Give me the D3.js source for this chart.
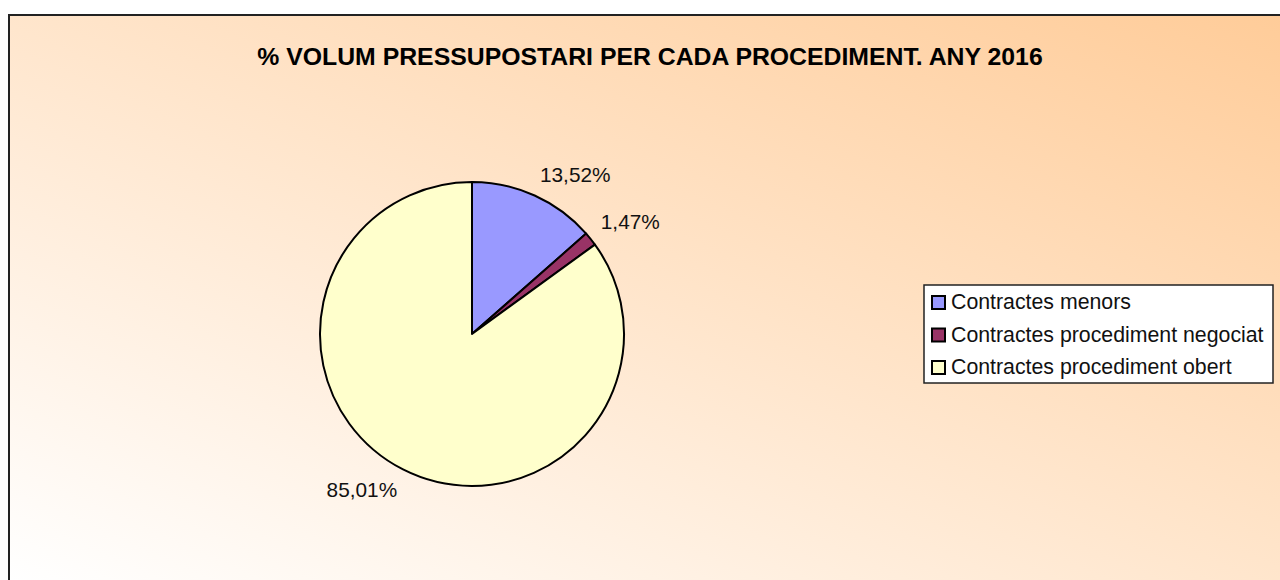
<!DOCTYPE html>
<html>
<head>
<meta charset="utf-8">
<script src="https://cdn.jsdelivr.net/npm/d3@7/dist/d3.min.js"></script>
<style>
  html, body { margin: 0; padding: 0; background: #fff; }
  svg { display: block; font-family: Arial, "Liberation Sans", sans-serif; }
</style>
</head>
<body>
<div id="chart"></div>
<script>
const TITLE = '% VOLUM PRESSUPOSTARI PER CADA PROCEDIMENT. ANY 2016';
const categories = ['Contractes menors', 'Contractes procediment negociat', 'Contractes procediment obert'];
const values = [13.52, 1.47, 85.01];
const labels = ['13,52%', '1,47%', '85,01%'];
const colors = ['#9999FF', '#993366', '#FFFFCC'];

const WIDTH = 1280;
const HEIGHT = 580;
const FRAME = { x: 9, y: 15 };
const PIE = { cx: 472, cy: 334, r: 152 };

const svg = d3.select('#chart')
  .append('svg')
    .attr('width', WIDTH)
    .attr('height', HEIGHT);

const grad = svg.append('defs')
  .append('linearGradient')
    .attr('id', 'bg')
    .attr('x1', 0).attr('y1', 1)
    .attr('x2', 1).attr('y2', 0);
grad.append('stop').attr('offset', 0).attr('stop-color', '#ffffff');
grad.append('stop').attr('offset', 1).attr('stop-color', '#ffcc99');

svg.append('rect')
  .attr('x', FRAME.x)
  .attr('y', FRAME.y)
  .attr('width', WIDTH - FRAME.x)
  .attr('height', HEIGHT - FRAME.y)
  .attr('fill', 'url(#bg)');

// frame: only top and left edges are inside the picture
svg.append('path')
  .attr('d', `M${FRAME.x},${HEIGHT} V${FRAME.y} H${WIDTH}`)
  .attr('fill', 'none')
  .attr('stroke', '#222')
  .attr('stroke-width', 2);

svg.append('text')
  .attr('x', 650)
  .attr('y', 64.5)
  .attr('text-anchor', 'middle')
  .attr('font-size', 24.8)
  .attr('font-weight', 'bold')
  .text(TITLE);

// PIE
const data = categories.map((c, i) => ({ name: c, value: values[i], label: labels[i], color: colors[i] }));

const pie = d3.pie()
  .sort(null)
  .value(d => d.value);

const arc = d3.arc()
  .innerRadius(0)
  .outerRadius(PIE.r);

const g = svg.append('g')
  .attr('transform', `translate(${PIE.cx}, ${PIE.cy})`);

const arcs = pie(data);

g.selectAll('path')
  .data(arcs)
  .enter()
  .append('path')
    .attr('d', arc)
    .attr('fill', d => d.data.color)
    .attr('stroke', '#000')
    .attr('stroke-width', 2)
    .attr('stroke-linejoin', 'round');

// labels sit just outside the rim, corner facing the pie
const LABEL_R = PIE.r + 13;
g.selectAll('text')
  .data(arcs)
  .enter()
  .append('text')
    .attr('font-size', 20.8)
    .attr('fill', '#111')
    .each(function(d) {
      const a = (d.startAngle + d.endAngle) / 2;
      const x = LABEL_R * Math.sin(a);
      const y = -LABEL_R * Math.cos(a);
      const t = d3.select(this);
      t.attr('x', x)
        .attr('y', y < 0 ? y - 2 : y + 16)
        .attr('text-anchor', x >= 0 ? 'start' : 'end')
        .text(d.data.label);
    });

// LEGEND
const legend = svg.append('g')
  .attr('transform', 'translate(924, 285)');

legend.append('rect')
  .attr('width', 349)
  .attr('height', 98)
  .attr('fill', '#fff')
  .attr('stroke', '#222')
  .attr('stroke-width', 1.5);

const rows = legend.selectAll('g.row')
  .data(data)
  .enter()
  .append('g')
    .attr('class', 'row')
    .attr('transform', (d, i) => `translate(0, ${24 + i * 32.5})`);

rows.append('rect')
  .attr('x', 8)
  .attr('y', -13)
  .attr('width', 13)
  .attr('height', 13)
  .attr('fill', d => d.color)
  .attr('stroke', '#000')
  .attr('stroke-width', 2);

rows.append('text')
  .attr('x', 27)
  .attr('y', 0)
  .attr('font-size', 21.3)
  .attr('fill', '#111')
  .text(d => d.name);
</script>
</body>
</html>
